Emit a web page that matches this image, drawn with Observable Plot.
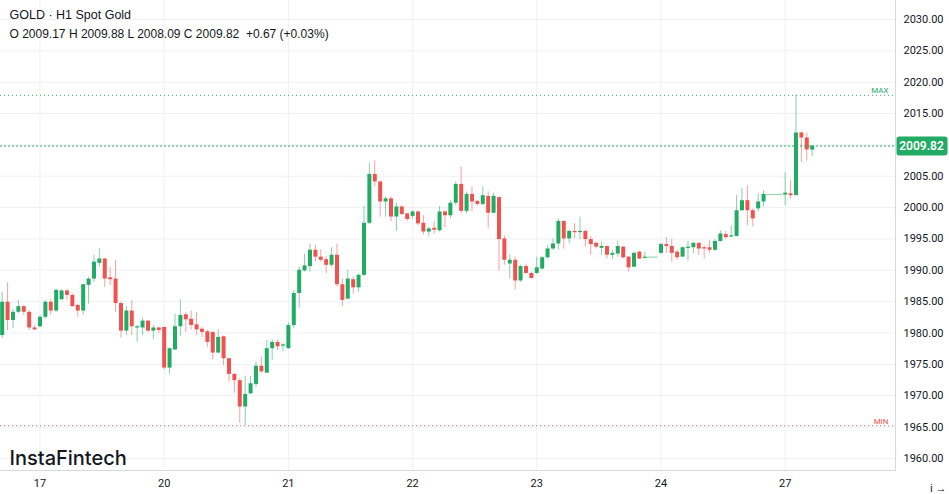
<!DOCTYPE html>
<html>
<head>
<meta charset="utf-8">
<script src="https://cdn.jsdelivr.net/npm/d3@7"></script>
<script src="https://cdn.jsdelivr.net/npm/@observablehq/plot@0.6"></script>
<style>
html, body { margin: 0; padding: 0; background: #ffffff; }
#chart { width: 949px; height: 494px; overflow: hidden; }
#chart svg { display: block; }
</style>
</head>
<body>
<div id="chart"></div>
<script>
// ---- Data (hourly candles, index 0 = first visible hour) ----
const opens = [
1979.6,1984.9,1982.0,1983.3,1984.2,1983.3,1980.8,1981.0,1982.5,1984.9,
1983.5,1985.3,1986.7,1986.0,1984.4,1983.5,1987.6,1988.6,1991.1,1991.8,
1988.8,1988.6,1984.7,1980.3,1983.5,1980.8,1980.8,1981.9,1980.3,1980.8,
1980.9,1974.4,1977.3,1981.0,1982.9,1982.2,1981.3,1980.6,1980.2,1980.1,
1976.8,1979.4,1975.9,1973.4,1972.4,1968.2,1970.3,1971.8,1974.7,1973.6,
1977.5,1978.5,1977.9,1977.5,1981.2,1986.3,1989.9,1990.6,1993.2,1992.1,
1991.7,1990.8,1992.4,1987.7,1985.4,1988.5,1987.2,1989.2,1997.5,2005.3,
2004.1,2000.9,2001.4,1998.5,2000.1,1999.0,1998.6,1999.3,1997.5,1996.1,
1996.7,1996.3,1999.3,1998.7,2000.7,2003.7,1999.4,2002.1,2001.0,2000.5,
2001.8,1999.1,2001.6,1995.0,1991.0,1991.6,1988.3,1990.6,1989.5,1989.5,
1990.2,1992.0,1993.4,1994.2,1997.8,1995.0,1996.2,1996.0,1996.2,1994.9,
1994.3,1993.5,1993.8,1992.4,1992.6,1993.7,1992.1,1990.5,1992.9,1991.9,
1992.1,1992.1,1992.7,1994.1,1993.8,1992.9,1992.1,1993.5,1993.6,1994.3,
1993.6,1993.6,1993.2,1994.6,1995.7,1995.3,1995.4,1999.5,2001.1,1999.5,
1999.8,2000.9,2002.1,2002.1,2002.1,2002.0,2002.2,2001.9,2011.9,2011.1,
2009.17];
const highs = [
1986.5,1988.0,1983.8,1985.2,1984.4,1983.6,1981.2,1982.8,1985.2,1985.4,
1987.0,1986.9,1987.0,1986.2,1984.6,1987.8,1988.9,1992.4,1993.4,1991.9,
1990.5,1991.6,1984.9,1984.2,1985.2,1981.2,1982.3,1982.0,1981.2,1980.9,
1980.9,1977.6,1983.0,1985.3,1983.2,1983.5,1983.3,1980.9,1980.4,1980.1,
1980.5,1979.5,1976.0,1973.5,1972.7,1973.1,1973.1,1975.3,1976.2,1978.8,
1978.9,1978.9,1978.3,1981.6,1986.8,1990.5,1992.6,1994.2,1994.0,1993.3,
1992.2,1993.6,1994.2,1988.6,1990.0,1988.9,1989.4,2000.2,2007.1,2007.5,
2004.2,2001.7,2001.7,2000.7,2000.3,1999.1,1999.5,1999.5,1998.7,1996.9,
1997.7,2000.2,1999.5,2001.1,2004.1,2006.5,2002.5,2003.3,2001.1,2003.3,
2002.5,2002.3,2001.7,1995.5,1992.5,1992.1,1990.8,1991.0,1989.7,1992.1,
1992.2,1993.9,1995.0,1998.2,1997.9,1996.4,1997.4,1998.5,1996.4,1995.4,
1994.5,1994.5,1993.9,1993.2,1994.7,1993.8,1992.2,1992.9,1993.0,1992.9,
1992.1,1992.1,1994.3,1995.2,1994.9,1993.2,1993.7,1994.6,1994.5,1994.4,
1993.9,1994.7,1994.9,1996.3,1996.2,1997.1,2001.9,2003.0,2003.5,1999.8,
2002.2,2002.7,2002.1,2002.1,2002.1,2005.6,2004.3,2017.9,2012.0,2011.9,
2009.88];
const lows = [
1979.1,1980.4,1980.7,1983.1,1982.8,1980.4,1980.4,1980.8,1982.2,1982.8,
1983.3,1985.2,1985.2,1984.1,1982.5,1982.8,1984.6,1988.1,1990.5,1987.3,
1987.6,1983.3,1979.2,1979.6,1979.6,1978.5,1979.6,1980.0,1978.9,1979.9,
1974.1,1973.4,1977.2,1979.4,1980.1,1980.5,1979.6,1979.3,1977.7,1975.7,
1976.7,1974.8,1972.2,1970.4,1965.6,1965.2,1970.2,1971.3,1973.6,1973.5,
1975.6,1977.2,1977.0,1977.4,1980.7,1983.9,1989.7,1989.7,1991.3,1991.3,
1989.5,1990.5,1987.3,1984.2,1985.3,1986.2,1986.5,1989.0,1997.3,2003.3,
1998.5,1998.5,1997.7,1996.2,1998.7,1997.8,1998.2,1997.1,1995.7,1995.4,
1995.8,1996.1,1996.8,1998.2,2000.3,1999.1,1999.0,1999.3,2000.3,2000.3,
1996.6,1999.0,1989.9,1990.8,1988.6,1986.9,1988.1,1989.4,1988.6,1989.3,
1990.0,1991.8,1993.2,1993.2,1993.4,1994.2,1995.0,1994.9,1993.7,1992.4,
1993.4,1992.4,1991.8,1991.7,1992.1,1991.8,1989.7,1990.4,1991.7,1991.8,
1992.1,1992.1,1992.6,1992.7,1991.3,1991.6,1992.0,1991.5,1992.7,1992.4,
1991.8,1992.7,1993.0,1994.5,1995.0,1995.2,1995.3,1999.4,1997.1,1996.9,
1999.3,2000.1,2002.1,2002.1,2002.1,2000.3,2001.4,2001.9,2007.2,2007.4,
2008.09];
const closes = [
1984.9,1982.0,1983.3,1984.2,1983.3,1980.8,1980.5,1982.5,1984.9,1983.5,
1986.8,1986.7,1986.0,1984.2,1983.5,1987.7,1988.6,1991.3,1991.8,1988.6,
1988.5,1984.7,1980.3,1983.5,1981.0,1981.0,1981.9,1980.3,1980.8,1980.4,
1974.4,1977.5,1981.0,1982.8,1982.1,1981.2,1980.5,1980.1,1978.5,1976.8,
1979.3,1975.9,1973.4,1972.4,1968.2,1970.2,1971.9,1974.7,1973.8,1977.5,
1978.5,1977.8,1978.1,1981.2,1986.3,1990.0,1990.7,1993.2,1992.1,1991.6,
1990.8,1992.4,1987.7,1985.2,1988.6,1987.2,1989.2,1997.5,2005.3,2004.1,
2000.9,2001.4,1998.5,2000.1,1998.9,1998.1,1999.3,1997.4,1996.1,1996.6,
1996.4,1999.3,1998.7,2000.7,2003.7,1999.4,2002.1,2000.9,2000.5,2001.9,
1999.1,2001.8,1994.9,1991.6,1991.6,1988.3,1990.6,1989.5,1988.7,1990.4,
1992.0,1993.4,1994.2,1997.8,1995.0,1996.2,1996.0,1996.2,1994.9,1994.1,
1993.7,1993.8,1992.4,1992.7,1993.8,1992.0,1990.4,1992.7,1991.8,1992.1,
1992.1,1992.1,1994.1,1993.8,1992.7,1992.0,1993.6,1993.7,1994.3,1993.4,
1993.4,1993.2,1994.6,1995.8,1995.2,1995.5,1999.5,2001.1,1999.5,1998.2,
2000.9,2002.1,2002.1,2002.1,2002.1,2002.3,2001.9,2011.9,2011.1,2009.2,
2009.82];

// x-axis: day labels and the candle index where each day starts
const dayLabels = ["17", "20", "21", "22", "23", "24", "27"];
const dayStartIndex = [7, 30, 53, 76, 99, 122, 145];
// y-axis ticks
const yTicks = [1960, 1965, 1970, 1975, 1980, 1985, 1990, 1995, 2000, 2005, 2010, 2015, 2020, 2025, 2030];

const titleText = "GOLD · H1 Spot Gold";
const ohlcText = "O 2009.17 H 2009.88 L 2008.09 C 2009.82  +0.67 (+0.03%)";
const watermark = "InstaFintech";
const lastPrice = 2009.82;

// ---- Build ----
const GREEN = "#22ab64";
const RED = "#ef5350";
const candles = opens.map((o, i) => ({
  i, o, h: highs[i], l: lows[i], c: closes[i], up: closes[i] >= o
}));
const flat = candles.filter(d => Math.abs(d.c - d.o) < 0.15);
const bodies = candles.filter(d => Math.abs(d.c - d.o) >= 0.15);
const maxHigh = d3.max(highs);
const minLow = d3.min(lows);
const labelByIndex = new Map(dayStartIndex.map((k, j) => [k, dayLabels[j]]));
// the price badge covers the tick label nearest to the last price
const labelTicks = yTicks.filter(t => Math.abs(t - lastPrice) > 2);
const BADGE_DX = 26;

const W = 949, H = 494;
const plot = Plot.plot({
  width: W,
  height: H,
  marginLeft: 0,
  marginRight: 54,
  marginTop: 0,
  marginBottom: 24,
  style: { fontFamily: "Roboto, 'Liberation Sans', sans-serif", fontSize: "11px", color: "#131722", background: "#ffffff", overflow: "visible" },
  x: { type: "linear", domain: [-0.31, 165.43] },
  y: { domain: [1958.07, 2033.03] },
  marks: [
    Plot.gridY(yTicks, { stroke: "#eef0f4", strokeOpacity: 1 }),
    Plot.gridX(dayStartIndex, { stroke: "#eef0f4", strokeOpacity: 1 }),
    Plot.frame({ anchor: "right", stroke: "#d6d9e0" }),
    Plot.frame({ anchor: "bottom", stroke: "#d6d9e0" }),
    Plot.axisY(labelTicks, { anchor: "right", tickSize: 0, tickPadding: 8, tickFormat: d => d.toFixed(2), fill: "#131722", fontSize: 11 }),
    Plot.axisX(dayStartIndex, { anchor: "bottom", tickSize: 0, tickPadding: 9, tickFormat: d => labelByIndex.get(d), fill: "#131722", fontSize: 11 }),
    // min / max lines
    Plot.ruleY([maxHigh], { stroke: GREEN, strokeOpacity: 0.9, strokeDasharray: "1,3" }),
    Plot.ruleY([minLow], { stroke: RED, strokeOpacity: 0.9, strokeDasharray: "1,3" }),
    Plot.text([maxHigh], { y: d => d, text: () => "MAX", frameAnchor: "right", textAnchor: "end", lineAnchor: "bottom", dx: -7, dy: -2, fill: GREEN, fontSize: 8 }),
    Plot.text([minLow], { y: d => d, text: () => "MIN", frameAnchor: "right", textAnchor: "end", lineAnchor: "bottom", dx: -7, dy: -2, fill: RED, fontSize: 8 }),
    // wicks
    Plot.ruleX(candles, { x: "i", y1: "l", y2: "h", stroke: d => d.up ? GREEN : RED, strokeOpacity: 0.55, strokeWidth: 1 }),
    // bodies
    Plot.ruleX(bodies, { x: "i", y1: "o", y2: "c", stroke: d => d.up ? GREEN : RED, strokeWidth: 4 }),
    Plot.ruleY(flat, { x1: d => d.i - 0.5, x2: d => d.i + 0.5, y: "c", stroke: GREEN, strokeOpacity: 0.55 }),
    // last price line
    Plot.ruleY([lastPrice], { stroke: GREEN, strokeDasharray: "2,2", strokeWidth: 1 }),
    Plot.text([lastPrice], {
      y: d => d, text: d => d.toFixed(2), frameAnchor: "right", textAnchor: "middle", dx: BADGE_DX,
      fill: "#ffffff", fontSize: 12, fontWeight: 600,
      render(index, scales, values, dims, context, next) {
        const g = next(index, scales, values, dims, context);
        const yPix = values.y ? values.y[index[0]] : scales.y(lastPrice);
        const r = document.createElementNS("http://www.w3.org/2000/svg", "rect");
        r.setAttribute("x", dims.width - dims.marginRight + 1 - BADGE_DX);
        r.setAttribute("y", yPix - 9.5);
        r.setAttribute("width", 51);
        r.setAttribute("height", 19);
        r.setAttribute("rx", 3);
        r.setAttribute("fill", GREEN);
        g.insertBefore(r, g.firstChild);
        return g;
      }
    }),
    // header texts
    Plot.text([titleText], { text: d => d, frameAnchor: "top-left", textAnchor: "start", lineAnchor: "bottom", dx: 9, dy: 18, fill: "#131722", fontSize: 12.5, fontFamily: "'Liberation Sans', Arial, sans-serif" }),
    Plot.text([ohlcText], { text: d => d, frameAnchor: "top-left", textAnchor: "start", lineAnchor: "bottom", dx: 9, dy: 37, fill: "#131722", fontSize: 12, fontFamily: "'Liberation Sans', Arial, sans-serif" }),
    // watermark
    Plot.text([watermark], { text: d => d, frameAnchor: "bottom-left", textAnchor: "start", lineAnchor: "bottom", dx: 9, dy: -6, fill: "#131722", fontSize: 20, fontWeight: 500, fontFamily: "Inter, 'Noto Sans', sans-serif" })
  ]
});
document.getElementById("chart").appendChild(plot);
</script>
</body>
</html>
